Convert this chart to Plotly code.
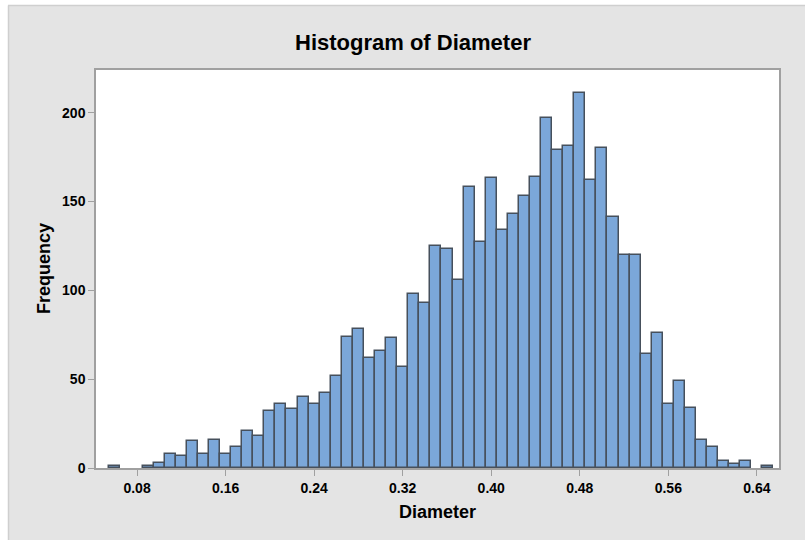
import plotly.graph_objects as go

# ---- data ----
bin_centers = [0.06, 0.07, 0.08, 0.09, 0.10, 0.11, 0.12, 0.13, 0.14, 0.15,
               0.16, 0.17, 0.18, 0.19, 0.20, 0.21, 0.22, 0.23, 0.24, 0.25,
               0.26, 0.27, 0.28, 0.29, 0.30, 0.31, 0.32, 0.33, 0.34, 0.35,
               0.36, 0.37, 0.38, 0.39, 0.40, 0.41, 0.42, 0.43, 0.44, 0.45,
               0.46, 0.47, 0.48, 0.49, 0.50, 0.51, 0.52, 0.53, 0.54, 0.55,
               0.56, 0.57, 0.58, 0.59, 0.60, 0.61, 0.62, 0.63, 0.64, 0.65]
frequency = [1, 0, 0, 1, 3, 8, 7, 15, 8, 16,
             8, 12, 21, 18, 32, 36, 33, 40, 36, 42,
             52, 74, 78, 62, 66, 73, 57, 98, 93, 125,
             123, 106, 158, 127, 163, 134, 143, 153, 164, 197,
             179, 181, 211, 162, 180, 141, 120, 120, 64, 76,
             36, 49, 34, 16, 12, 4, 2, 4, 0, 1]
bin_width = 0.01
x_ticks = [0.08, 0.16, 0.24, 0.32, 0.40, 0.48, 0.56, 0.64]
x_tick_labels = ["0.08", "0.16", "0.24", "0.32", "0.40", "0.48", "0.56", "0.64"]
y_ticks = [0, 50, 100, 150, 200]
y_tick_labels = ["0", "50", "100", "150", "200"]

FONT = "Liberation Sans, Arial, sans-serif"
W, H = 805, 540
L, R, T, B = 96, 26, 70, 72

xs = [c for c, f in zip(bin_centers, frequency) if f > 0]
ys = [f for f in frequency if f > 0]

fig = go.Figure()
fig.add_trace(go.Bar(
    x=xs, y=ys, width=bin_width,
    marker=dict(color="#7BA7D9", line=dict(color="#46505C", width=1.5)),
    hoverinfo="x+y",
))

axis_common = dict(
    showgrid=False, zeroline=False, showline=True, mirror=True,
    linecolor="#A0A0A0", linewidth=1.5,
    ticks="outside", ticklen=6, tickcolor="#A0A0A0", tickwidth=1,
    tickfont=dict(family=FONT, size=14, color="black", weight="bold"),
)

fig.update_layout(
    width=W, height=H,
    margin=dict(l=L, r=R, t=T, b=B, pad=0),
    paper_bgcolor="#E4E4E4",
    plot_bgcolor="white",
    showlegend=False,
    bargap=0,
    xaxis=dict(range=[0.0429, 0.6600], tickvals=x_ticks, ticktext=x_tick_labels,
               **axis_common),
    yaxis=dict(range=[0, 224], tickvals=y_ticks, ticktext=y_tick_labels,
               **axis_common),
    title=dict(text="<b>Histogram of Diameter</b>", x=413 / W, xref="container",
               xanchor="center", y=1 - 42 / H, yref="container", yanchor="middle",
               font=dict(family=FONT, size=22, color="black")),
)

# outer white strips and light border lines
fig.add_shape(type="rect", xref="paper", yref="paper",
              x0=-L / (W - L - R), x1=(8 - L) / (W - L - R),
              y0=-B / (H - T - B), y1=(H - B) / (H - T - B),
              fillcolor="white", line=dict(width=0), layer="above")
fig.add_shape(type="rect", xref="paper", yref="paper",
              x0=-L / (W - L - R), x1=(W - L) / (W - L - R),
              y0=(H - B - 5) / (H - T - B), y1=(H - B) / (H - T - B),
              fillcolor="white", line=dict(width=0), layer="above")
fig.add_shape(type="line", xref="paper", yref="paper",
              x0=(8 - L) / (W - L - R), x1=(W - L) / (W - L - R),
              y0=(H - B - 5.5) / (H - T - B), y1=(H - B - 5.5) / (H - T - B),
              line=dict(color="#CFCFCF", width=1.5), layer="above")
fig.add_shape(type="line", xref="paper", yref="paper",
              x0=(8.5 - L) / (W - L - R), x1=(8.5 - L) / (W - L - R),
              y0=-B / (H - T - B), y1=(H - B - 5.5) / (H - T - B),
              line=dict(color="#CFCFCF", width=1.5), layer="above")

# axis titles
fig.add_annotation(text="<b>Diameter</b>", xref="paper", yref="paper",
                   x=0.5, y=-(512 - (H - B)) / (H - T - B), xanchor="center",
                   yanchor="middle", showarrow=False,
                   font=dict(family=FONT, size=18, color="black"))
fig.add_annotation(text="<b>Frequency</b>", xref="paper", yref="paper",
                   x=-(L - 44) / (W - L - R), y=0.5, xanchor="center",
                   yanchor="middle", textangle=-90, showarrow=False,
                   font=dict(family=FONT, size=18, color="black"))

fig.write_html("out.html")
